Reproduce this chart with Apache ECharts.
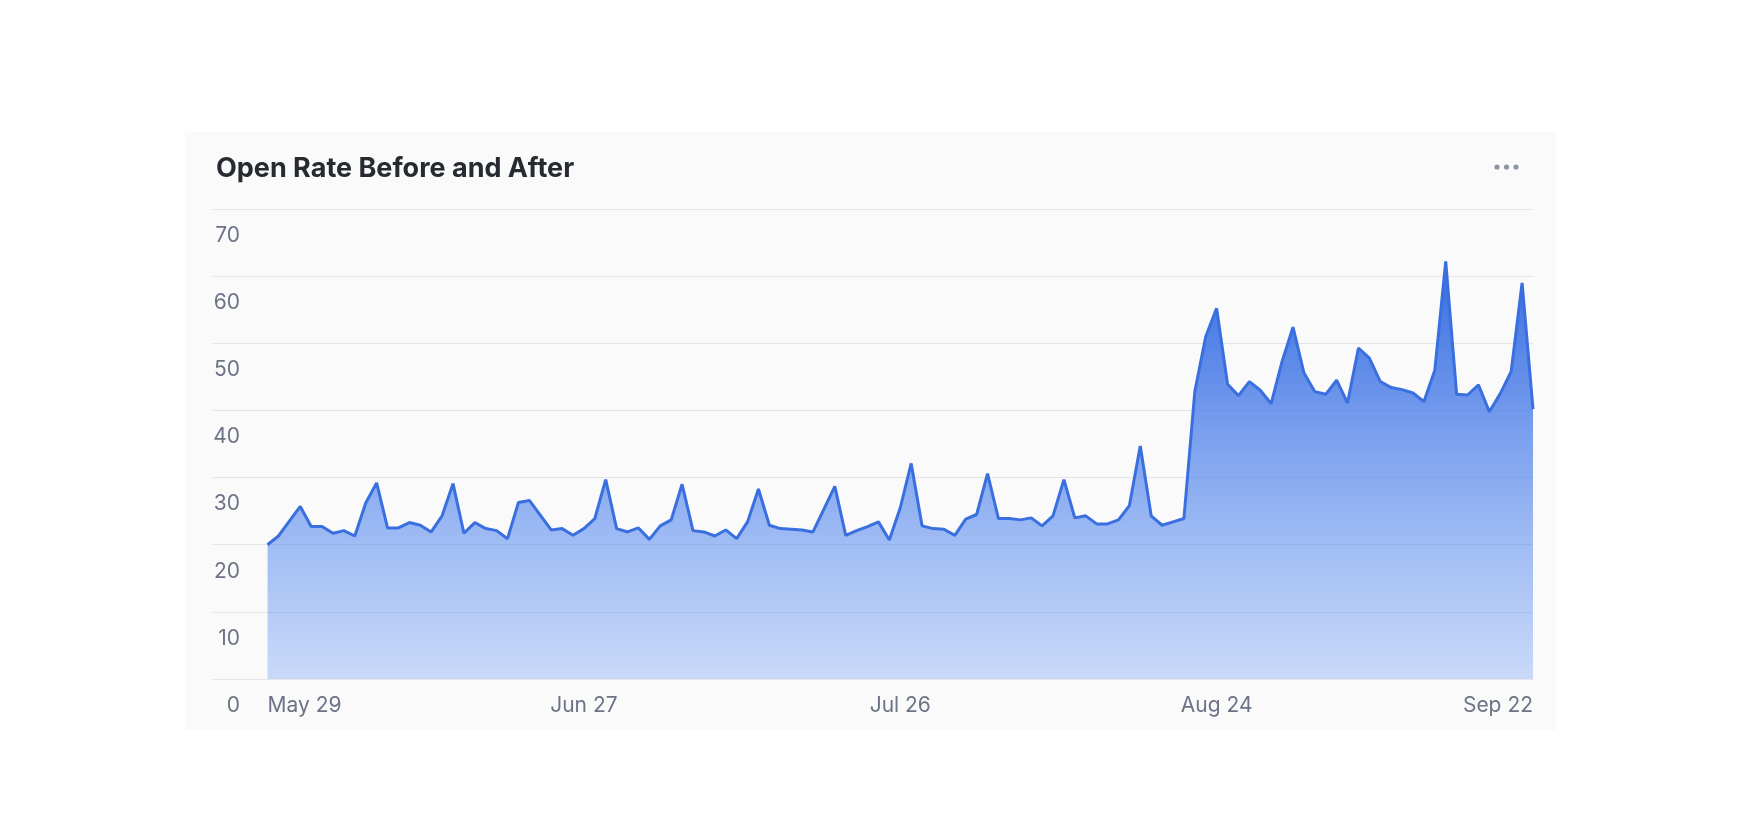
<!DOCTYPE html>
<html lang="en">
<head>
    <meta charset="UTF-8">
    <title>Open Rate Before and After</title>
    <script src="https://cdn.jsdelivr.net/npm/echarts@6/dist/echarts.min.js"></script>
    <style>
        body { margin: 0; background: #ffffff; }
        #panel { position: absolute; left: 185px; top: 132px; width: 1371px; height: 598px; background: #fafafa; }
        #myChart { position: absolute; left: 0; top: 0; width: 1752px; height: 820px; }
    </style>
</head>
<body>
<div id="panel"></div>
<div id="myChart"></div>

<script>
    // daily open rate (%), one value per day starting at firstDay
    const firstDay = '2024-05-29';
    const openRate = [
        20.0, 21.3, 23.5, 25.7, 22.7, 22.7, 21.7, 22.1, 21.3, 26.2,
        29.2, 22.5, 22.5, 23.3, 22.9, 21.9, 24.3, 29.1, 21.7, 23.3,
        22.4, 22.1, 20.9, 26.3, 26.6, 24.4, 22.2, 22.4, 21.4, 22.4,
        23.9, 29.7, 22.4, 21.9, 22.5, 20.8, 22.8, 23.7, 29.0, 22.1,
        21.9, 21.3, 22.2, 20.9, 23.4, 28.3, 22.9, 22.4, 22.3, 22.2,
        21.9, 25.3, 28.7, 21.4, 22.1, 22.7, 23.4, 20.7, 25.5, 32.1,
        22.8, 22.4, 22.3, 21.4, 23.8, 24.5, 30.6, 23.9, 23.9, 23.7,
        24.0, 22.8, 24.3, 29.7, 24.0, 24.3, 23.1, 23.1, 23.7, 25.8,
        34.7, 24.3, 22.9, 23.4, 23.9, 42.8, 51.0, 55.2, 43.9, 42.2,
        44.3, 43.0, 41.0, 47.3, 52.4, 45.6, 42.8, 42.4, 44.5, 41.1,
        49.3, 47.8, 44.3, 43.4, 43.1, 42.6, 41.3, 46.0, 62.2, 42.4,
        42.3, 43.8, 39.8, 42.5, 45.8, 59.0, 40.2
    ];
    const tickDates = ['2024-05-29', '2024-06-27', '2024-07-26', '2024-08-24', '2024-09-22'];
    const axisStart = '2024-05-24';
    const monthNames = ['Jan', 'Feb', 'Mar', 'Apr', 'May', 'Jun', 'Jul', 'Aug', 'Sep', 'Oct', 'Nov', 'Dec'];

    const DAY = 24 * 3600 * 1000;
    const t0 = Date.parse(firstDay + 'T00:00:00Z');
    const seriesData = openRate.map((v, i) => [t0 + i * DAY, v]);
    const tickValues = tickDates.map(d => Date.parse(d + 'T00:00:00Z'));

    const labelFont = 'Inter, "Noto Sans", sans-serif';

    let myChart = echarts.init(document.getElementById('myChart'), null, {renderer: 'canvas'});
    myChart.setOption({
        backgroundColor: 'transparent',
        animation: false,
        title: {
            text: 'Open Rate Before and After',
            left: 211,
            top: 150,
            textStyle: {
                fontFamily: labelFont,
                fontSize: 27,
                fontWeight: 'bold',
                color: '#262a31'
            }
        },
        graphic: [
            {type: 'circle', shape: {cx: 1497, cy: 167, r: 2.6}, style: {fill: '#8c94a6'}},
            {type: 'circle', shape: {cx: 1506.5, cy: 167, r: 2.6}, style: {fill: '#8c94a6'}},
            {type: 'circle', shape: {cx: 1516, cy: 167, r: 2.6}, style: {fill: '#8c94a6'}}
        ],
        grid: {
            left: 213,
            right: 219,
            top: 209,
            bottom: 141
        },
        xAxis: {
            type: 'value',
            min: Date.parse(axisStart + 'T00:00:00Z'),
            max: tickValues[tickValues.length - 1],
            axisLine: {show: false},
            axisTick: {show: false},
            splitLine: {show: false},
            axisLabel: {
                customValues: tickValues,
                alignMinLabel: 'left',
                alignMaxLabel: 'right',
                margin: 16,
                fontFamily: labelFont,
                fontSize: 21,
                color: '#6b7385',
                formatter: function (v) {
                    const d = new Date(v);
                    return monthNames[d.getUTCMonth()] + ' ' + d.getUTCDate();
                }
            }
        },
        yAxis: {
            type: 'value',
            min: 0,
            max: 70,
            interval: 10,
            axisLine: {show: false},
            axisTick: {show: false},
            splitLine: {lineStyle: {color: '#e4e4e6', width: 1.2}},
            axisLabel: {
                inside: true,
                margin: 27,
                align: 'right',
                verticalAlign: 'top',
                padding: [16, 0, 0, 0],
                fontFamily: labelFont,
                fontSize: 21,
                color: '#6b7385'
            }
        },
        series: [
            {
                type: 'line',
                data: seriesData,
                showSymbol: false,
                smooth: false,
                lineStyle: {color: '#3a6fe0', width: 3},
                itemStyle: {color: '#3a6fe0'},
                areaStyle: {
                    opacity: 1,
                    color: new echarts.graphic.LinearGradient(0, 0, 0, 1, [
                        {offset: 0, color: 'rgba(52, 106, 224, 1)'},
                        {offset: 1, color: 'rgba(100, 150, 245, 0.33)'}
                    ])
                }
            }
        ]
    });
</script>
</body>
</html>
